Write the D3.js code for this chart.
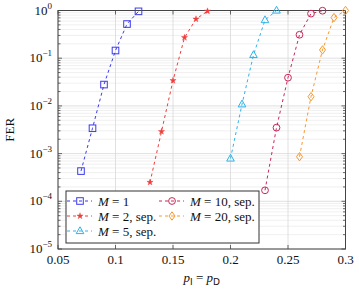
<!DOCTYPE html>
<html>
<head>
<meta charset="utf-8">
<script src="https://cdn.jsdelivr.net/npm/d3@7"></script>
<style>
  body { margin: 0; background: #fff; }
  svg text { font-family: "Liberation Serif", "DejaVu Serif", "Times New Roman", Times, serif; fill: #111; }
</style>
</head>
<body>
<div id="chart"></div>
<script>
// FER vs deletion/insertion probability
const pM1 = [0.07, 0.08, 0.09, 0.10, 0.11, 0.12];
const ferM1 = [4.3e-4, 3.4e-3, 2.8e-2, 0.145, 0.52, 0.96];
const pM2 = [0.13, 0.14, 0.15, 0.16, 0.17, 0.18];
const ferM2 = [2.5e-4, 2.9e-3, 0.034, 0.27, 0.66, 0.97];
const pM5 = [0.20, 0.21, 0.22, 0.23, 0.24];
const ferM5 = [7.9e-4, 0.0108, 0.117, 0.63, 1.0];
const pM10 = [0.23, 0.24, 0.25, 0.26, 0.27, 0.28];
const ferM10 = [1.7e-4, 3.5e-3, 0.039, 0.31, 0.86, 0.99];
const pM20 = [0.26, 0.27, 0.28, 0.29, 0.30];
const ferM20 = [8.6e-4, 0.0156, 0.149, 0.71, 1.0];

const xTicks = [0.05, 0.1, 0.15, 0.2, 0.25, 0.3];
const xTickLabels = ['0.05', '0.1', '0.15', '0.2', '0.25', '0.3'];
const yExponents = [0, -1, -2, -3, -4, -5];

const series = [
    { label: 'M = 1', suffix: '', p: pM1, fer: ferM1, color: '#3a3af0', marker: 'square' },
    { label: 'M = 2', suffix: ', sep.', p: pM2, fer: ferM2, color: '#f03c3c', marker: 'star' },
    { label: 'M = 5', suffix: ', sep.', p: pM5, fer: ferM5, color: '#2fb3e8', marker: 'triangle' },
    { label: 'M = 10', suffix: ', sep.', p: pM10, fer: ferM10, color: '#c8285a', marker: 'circle' },
    { label: 'M = 20', suffix: ', sep.', p: pM20, fer: ferM20, color: '#f7992e', marker: 'diamond' }
];

const serif = '"Liberation Serif", "DejaVu Serif", serif';
const margin = { top: 10.5, right: 13.5, bottom: 40, left: 58 };
const W = 359, H = 289;
const width = W - margin.left - margin.right;
const height = H - margin.top - margin.bottom;

const svg = d3.select('#chart').append('svg')
    .attr('width', W).attr('height', H)
    .attr('font-family', serif);
const g = svg.append('g')
    .attr('transform', `translate(${margin.left},${margin.top})`);

const x = d3.scaleLinear().domain([0.05, 0.3]).range([0, width]);
const y = d3.scaleLog().domain([1e-5, 1]).range([height, 0]);

// minor grid
const minorVals = [];
for (let e = -5; e < 0; e++) {
    for (let k = 2; k <= 9; k++) minorVals.push(k * Math.pow(10, e));
}
g.append('g').selectAll('line').data(minorVals).join('line')
    .attr('x1', 0).attr('x2', width)
    .attr('y1', d => y(d)).attr('y2', d => y(d))
    .attr('stroke', '#ececec').attr('stroke-width', 0.8);

// major grid
g.append('g').selectAll('line').data(yExponents).join('line')
    .attr('x1', 0).attr('x2', width)
    .attr('y1', d => y(Math.pow(10, d))).attr('y2', d => y(Math.pow(10, d)))
    .attr('stroke', '#d8d8d8').attr('stroke-width', 0.8);
g.append('g').selectAll('line').data(xTicks).join('line')
    .attr('x1', d => x(d)).attr('x2', d => x(d))
    .attr('y1', 0).attr('y2', height)
    .attr('stroke', '#d8d8d8').attr('stroke-width', 0.8);

// ticks (inside, both sides)
const tickG = g.append('g').attr('stroke', '#444').attr('stroke-width', 0.8);
minorVals.forEach(v => {
    tickG.append('line').attr('x1', 0).attr('x2', 2.5).attr('y1', y(v)).attr('y2', y(v));
    tickG.append('line').attr('x1', width - 2.5).attr('x2', width).attr('y1', y(v)).attr('y2', y(v));
});
yExponents.forEach(e => {
    const yy = y(Math.pow(10, e));
    tickG.append('line').attr('x1', 0).attr('x2', 4).attr('y1', yy).attr('y2', yy);
    tickG.append('line').attr('x1', width - 4).attr('x2', width).attr('y1', yy).attr('y2', yy);
});
xTicks.forEach(v => {
    tickG.append('line').attr('x1', x(v)).attr('x2', x(v)).attr('y1', height).attr('y2', height - 4);
    tickG.append('line').attr('x1', x(v)).attr('x2', x(v)).attr('y1', 0).attr('y2', 4);
});

// frame
g.append('rect')
    .attr('width', width).attr('height', height)
    .attr('fill', 'none').attr('stroke', '#444').attr('stroke-width', 1);

// x tick labels
g.append('g').selectAll('text').data(xTicks).join('text')
    .attr('x', d => x(d)).attr('y', height + 15)
    .attr('text-anchor', 'middle')
    .attr('font-family', serif)
    .attr('font-size', 13)
    .text((d, i) => xTickLabels[i]);

// y tick labels
const yl = g.append('g').selectAll('text').data(yExponents).join('text')
    .attr('x', -6).attr('y', d => y(Math.pow(10, d)) + 4)
    .attr('text-anchor', 'end')
    .attr('font-family', serif)
    .attr('font-size', 13);
yl.append('tspan').text('10');
yl.append('tspan').attr('dy', -6).attr('font-size', 9)
    .text(d => d === 0 ? '0' : '\u2212' + Math.abs(d));

// axis labels
svg.append('text')
    .attr('transform', `translate(14,${margin.top + height / 2}) rotate(-90)`)
    .attr('text-anchor', 'middle').attr('font-size', 13)
    .attr('font-family', serif)
    .text('FER');

const xl = svg.append('text')
    .attr('x', margin.left + width / 2).attr('y', H - 7)
    .attr('text-anchor', 'middle').attr('font-size', 13)
    .attr('font-family', serif);
xl.append('tspan').attr('font-style', 'italic').text('p');
xl.append('tspan').attr('dy', 3).attr('font-size', 9)
    .attr('font-family', 'DejaVu Sans').text('I');
xl.append('tspan').attr('dy', -3).text(' = ');
xl.append('tspan').attr('font-style', 'italic').text('p');
xl.append('tspan').attr('dy', 3).attr('font-size', 9)
    .attr('font-family', 'DejaVu Sans').text('D');

// markers
function drawMarker(sel, type, color) {
    if (type === 'square') {
        sel.append('rect').attr('x', -3.3).attr('y', -3.3).attr('width', 6.6).attr('height', 6.6)
            .attr('fill', 'none').attr('stroke', color).attr('stroke-width', 1);
    } else if (type === 'star') {
        sel.append('path').attr('d', d3.symbol(d3.symbolStar, 12)())
            .attr('fill', color).attr('stroke', color).attr('stroke-width', 0.4);
    } else if (type === 'triangle') {
        sel.append('path').attr('d', 'M0,-4.2L3.8,2.6L-3.8,2.6Z')
            .attr('fill', 'none').attr('stroke', color).attr('stroke-width', 1);
    } else if (type === 'circle') {
        sel.append('circle').attr('r', 3.4)
            .attr('fill', 'none').attr('stroke', color).attr('stroke-width', 1);
    } else if (type === 'diamond') {
        sel.append('path').attr('d', 'M0,-4.2L3,0L0,4.2L-3,0Z')
            .attr('fill', 'none').attr('stroke', color).attr('stroke-width', 1);
    }
}

const line = d3.line().x(d => x(d[0])).y(d => y(d[1]));

series.forEach(s => {
    const pts = s.p.map((p, i) => [p, s.fer[i]]);
    g.append('path')
        .datum(pts)
        .attr('d', line)
        .attr('fill', 'none')
        .attr('stroke', s.color)
        .attr('stroke-width', 1)
        .attr('stroke-dasharray', '3,3');
    pts.forEach(pt => {
        const m = g.append('g').attr('transform', `translate(${x(pt[0])},${y(pt[1])})`);
        drawMarker(m, s.marker, s.color);
    });
});

// legend
const leg = svg.append('g').attr('transform', 'translate(66,191)');
leg.append('rect').attr('width', 193).attr('height', 52)
    .attr('fill', '#fff').attr('stroke', '#333').attr('stroke-width', 1);

const legPos = [[0, 0], [0, 1], [0, 2], [1, 0], [1, 1]];
series.forEach((s, i) => {
    const [col, row] = legPos[i];
    const lx = col === 0 ? 1 : 93;
    const ly = 10 + row * 15;
    const item = leg.append('g').attr('transform', `translate(${lx},${ly})`);
    item.append('line').attr('x1', 0).attr('x2', 25).attr('y1', 0).attr('y2', 0)
        .attr('stroke', s.color).attr('stroke-width', 1).attr('stroke-dasharray', '3,3');
    const mk = item.append('g').attr('transform', 'translate(13,0)');
    drawMarker(mk, s.marker, s.color);
    const t = item.append('text').attr('x', 31).attr('y', 4.5)
        .attr('font-size', 13).attr('font-family', serif);
    const parts = s.label.split(' = ');
    t.append('tspan').attr('font-style', 'italic').text(parts[0]);
    t.append('tspan').text(' = ' + parts[1] + s.suffix);
});
</script>
</body>
</html>
